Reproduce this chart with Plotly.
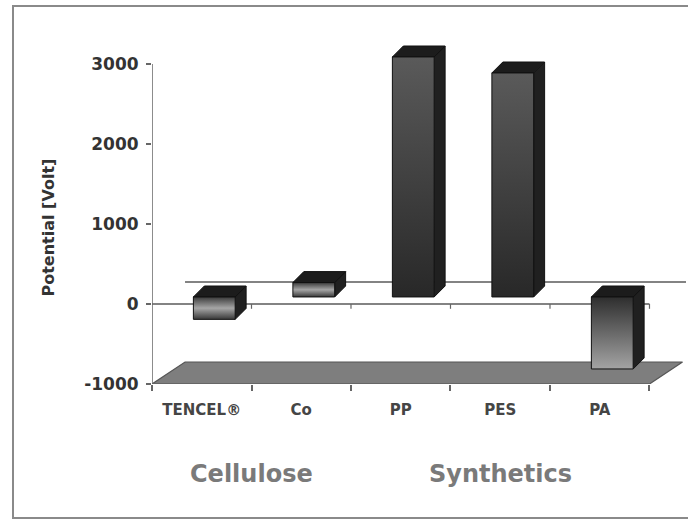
import plotly.graph_objects as go

# ---- data -------------------------------------------------------------
categories = ["TENCEL®", "Co", "PP", "PES", "PA"]
potential_volt = [-280, 180, 3000, 2800, -900]
y_ticks = [-1000, 0, 1000, 2000, 3000]
y_tick_labels = ["-1000", "0", "1000", "2000", "3000"]
groups = ["Cellulose", "Synthetics"]
group_centers = [0.5, 3.0]

# ---- pseudo-3D geometry (data units) -------------------------------------
Y_MIN, Y_MAX = -1000, 3300
X_MIN, X_MAX = -0.5, 4.867
FLOOR_DX, FLOOR_DY = 0.332, 275      # depth of the floor / walls
BAR_SHIFT, BAR_LIFT = 0.126, 88      # front face sits partly into the depth
BAR_HALF = 0.21                      # half width of a column
BAR_DX, BAR_DY = 0.11, 137           # depth of a column

FONT = "DejaVu Sans"

# face shading per column
front_scales = {
    "band": [[0, "#383838"], [0.5, "#a6a6a6"], [1, "#3a3a3a"]],
    "dark": [[0, "#282828"], [1, "#5a5a5a"]],
    "fade": [[0, "#a4a4a4"], [1, "#2e2e2e"]],
}
column_shading = ["band", "band", "dark", "dark", "fade"]

fig = go.Figure()


def add_poly(points, fill=None, gradient=None, line="#111111", width=1):
    xs = [p[0] for p in points] + [points[0][0]]
    ys = [p[1] for p in points] + [points[0][1]]
    kw = dict(x=xs, y=ys, mode="lines", fill="toself",
              line=dict(color=line, width=width),
              hoverinfo="skip", showlegend=False)
    if gradient is not None:
        kw["fillgradient"] = dict(type="vertical", colorscale=gradient)
    else:
        kw["fillcolor"] = fill
    fig.add_trace(go.Scatter(**kw))


# floor
n = len(categories)
left, right = -0.5, n - 0.5
add_poly([(left, Y_MIN), (right, Y_MIN),
          (right + FLOOR_DX, Y_MIN + FLOOR_DY), (left + FLOOR_DX, Y_MIN + FLOOR_DY)],
         fill="#7e7e7e", line="#555555", width=1.2)

# back-wall and front zero lines
fig.add_trace(go.Scatter(x=[left + FLOOR_DX, X_MAX], y=[FLOOR_DY, FLOOR_DY],
                         mode="lines", line=dict(color="#5a5a5a", width=1.5),
                         hoverinfo="skip", showlegend=False))
fig.add_trace(go.Scatter(x=[left, right], y=[0, 0],
                         mode="lines", line=dict(color="#5a5a5a", width=1.5),
                         hoverinfo="skip", showlegend=False))

# small slot marks hanging from the front zero line
for k in range(1, n + 1):
    fig.add_shape(type="line", xref="x", yref="y",
                  x0=left + k, x1=left + k, y0=0, y1=-60,
                  line=dict(color="#666666", width=1.2))

# columns
for i, v in enumerate(potential_volt):
    x0 = i + BAR_SHIFT - BAR_HALF
    x1 = i + BAR_SHIFT + BAR_HALF
    lo = min(BAR_LIFT, v + BAR_LIFT)
    hi = max(BAR_LIFT, v + BAR_LIFT)
    side = [(x1, lo), (x1 + BAR_DX, lo + BAR_DY), (x1 + BAR_DX, hi + BAR_DY), (x1, hi)]
    top = [(x0, hi), (x1, hi), (x1 + BAR_DX, hi + BAR_DY), (x0 + BAR_DX, hi + BAR_DY)]
    front = [(x0, lo), (x1, lo), (x1, hi), (x0, hi)]
    add_poly(side, fill="#202020")
    add_poly(top, fill="#1c1c1c")
    add_poly(front, gradient=front_scales[column_shading[i]])

# axis lines (value axis stops at the top tick, category axis at the last slot)
axis_line = dict(color="#666666", width=1.5)
fig.add_shape(type="line", x0=left, x1=left, y0=y_ticks[0], y1=y_ticks[-1],
              xref="x", yref="y", line=axis_line)
fig.add_shape(type="line", x0=left, x1=right, y0=Y_MIN, y1=Y_MIN,
              xref="x", yref="y", line=axis_line)

# outer chart frame
fig.add_shape(type="rect", xref="paper", yref="paper",
              x0=-0.2603, x1=1.0075, y0=-0.3895, y1=1.0988,
              line=dict(color="#8a8a8a", width=2), fillcolor="rgba(0,0,0,0)")

# group labels
for name, cx in zip(groups, group_centers):
    fig.add_annotation(x=cx, xref="x", y=-0.262, yref="paper", text=name,
                       showarrow=False, yanchor="middle",
                       font=dict(family=FONT, size=24, color="#7a7a7a", weight="bold"))

# value-axis title
fig.add_annotation(x=0, xref="paper", xshift=-116, y=950, yref="y",
                   text="Potential [Volt]", textangle=-90, showarrow=False,
                   font=dict(family=FONT, size=16, color="#333333", weight="bold"))

fig.update_layout(
    width=688, height=521,
    margin=dict(l=152, r=2, t=40, b=137),
    paper_bgcolor="white", plot_bgcolor="white",
    xaxis=dict(range=[X_MIN, X_MAX], tickmode="array",
               tickvals=list(range(n)), ticktext=categories,
               ticks="outside", ticklen=0, ticklabelstandoff=12,
               tickfont=dict(family=FONT, size=15, color="#454545", weight="bold"),
               minor=dict(tick0=-0.5, dtick=1, ticks="outside", ticklen=6,
                          tickcolor="#666666", tickwidth=1.5),
               showgrid=False, zeroline=False, showline=False, fixedrange=True),
    yaxis=dict(range=[Y_MIN, Y_MAX], tickmode="array",
               tickvals=y_ticks, ticktext=y_tick_labels,
               ticks="outside", ticklen=5, tickcolor="#666666", tickwidth=1.5,
               ticklabelstandoff=4,
               tickfont=dict(family=FONT, size=17, color="#333333", weight="bold"),
               showgrid=False, zeroline=False, showline=False, fixedrange=True),
)

fig.write_html("out.html")
